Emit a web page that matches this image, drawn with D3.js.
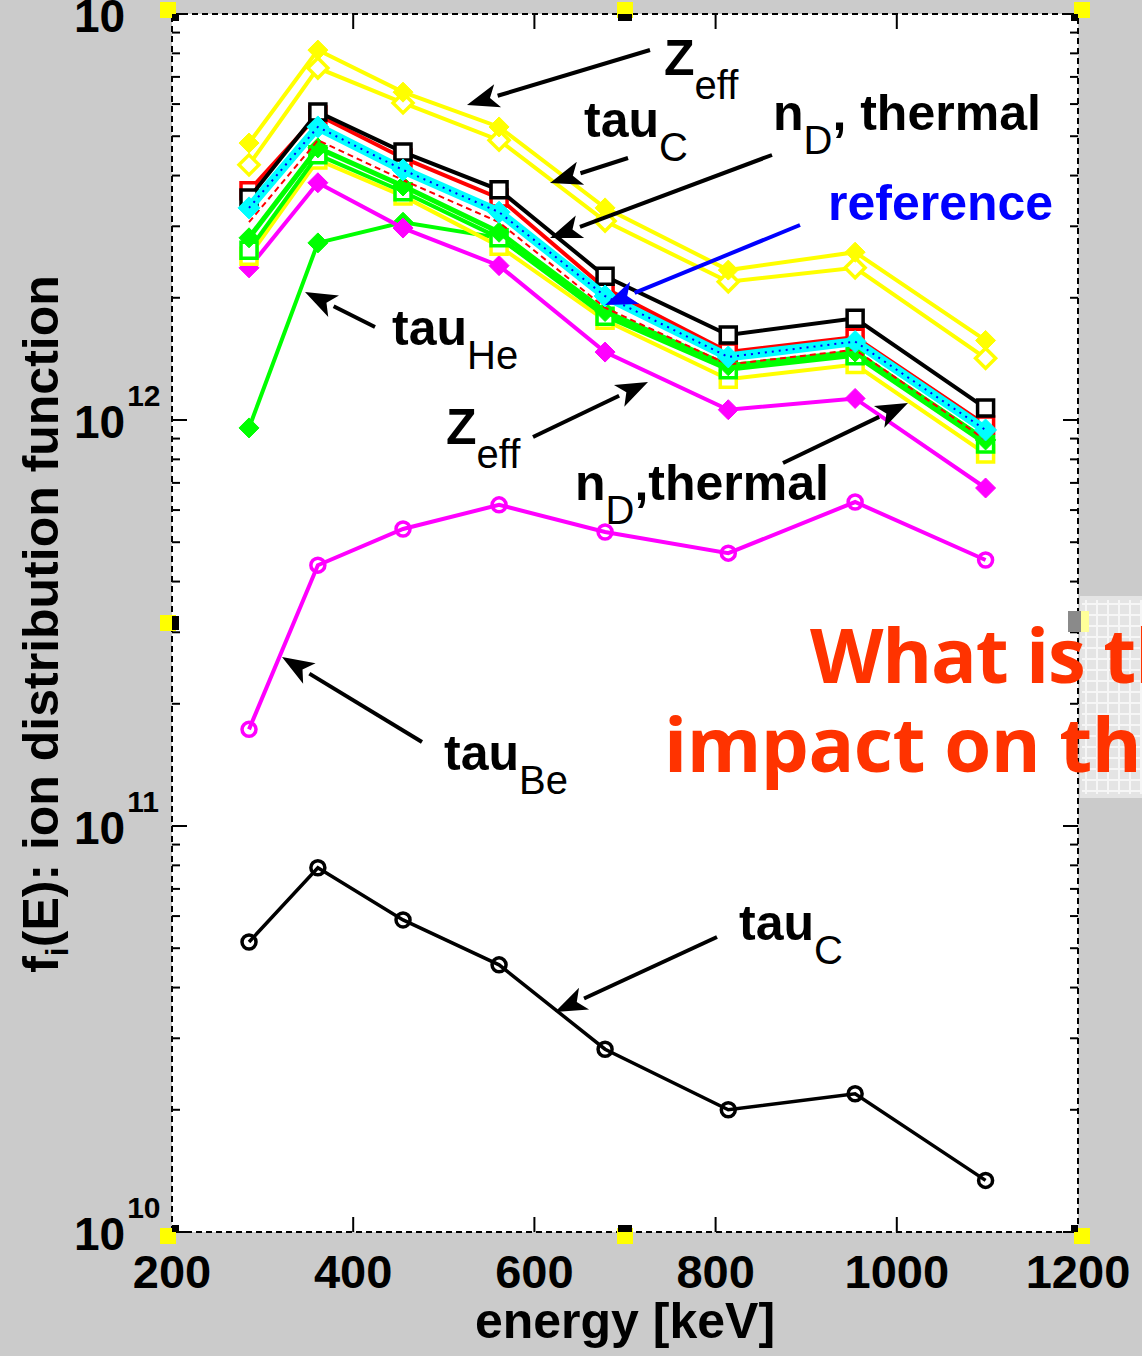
<!DOCTYPE html>
<html>
<head>
<meta charset="utf-8">
<script src="https://cdn.jsdelivr.net/npm/d3@7"></script>
<style>
  html, body { margin: 0; padding: 0; background: #cbcbcb; }
  svg { display: block; }
</style>
</head>
<body>
<svg id="chart" width="1142" height="1356"></svg>
<script>
// Energy grid of the simulated fast-ion spectrum [keV]
const energy = [285, 361, 455, 561, 678, 814, 954, 1098];

// f_i(E) for each parameter scan
const zeffHigh  = [4.81e12, 8.15e12, 6.42e12, 5.27e12, 3.33e12, 2.34e12, 2.59e12, 1.57e12];
const tauCHigh  = [4.25e12, 7.36e12, 6.04e12, 4.89e12, 3.09e12, 2.19e12, 2.37e12, 1.42e12];
const nDHigh    = [3.52e12, 5.74e12, 4.57e12, 3.69e12, 2.26e12, 1.62e12, 1.78e12, 1.07e12];
const redRun    = [3.67e12, 5.64e12, 4.42e12, 3.52e12, 2.11e12, 1.47e12, 1.60e12, 9.72e11];
const reference = [3.33e12, 5.27e12, 4.13e12, 3.25e12, 2.02e12, 1.43e12, 1.56e12, 9.45e11];
const redDashed = [3.07e12, 4.89e12, 3.90e12, 3.07e12, 1.89e12, 1.37e12, 1.49e12, 8.93e11];
const greenA    = [2.81e12, 4.68e12, 3.77e12, 2.90e12, 1.85e12, 1.36e12, 1.47e12, 8.93e11];
const greenB    = [2.62e12, 4.50e12, 3.65e12, 2.81e12, 1.80e12, 1.33e12, 1.44e12, 8.73e11];
const yellowLow = [2.53e12, 4.37e12, 3.56e12, 2.68e12, 1.76e12, 1.26e12, 1.37e12, 8.25e11];
const zeffLow   = [2.37e12, 3.84e12, 2.97e12, 2.40e12, 1.47e12, 1.06e12, 1.13e12, 6.80e11];
const tauHe     = [9.56e11, 2.73e12, 3.07e12, 2.81e12, 1.83e12, 1.36e12, 1.47e12, 8.93e11];
const tauBe     = [1.73e11, 4.39e11, 5.39e11, 6.18e11, 5.30e11, 4.70e11, 6.28e11, 4.52e11];
const tauCLow   = [5.18e10, 7.89e10, 5.87e10, 4.55e10, 2.82e10, 2.00e10, 2.19e10, 1.34e10];

// Axis ticks
const xTickValues = [200, 400, 600, 800, 1000, 1200];
const yTickExponents = [10, 11, 12, 13];

const svg = d3.select("#chart");
const plotLeft = 172, plotRight = 1078, plotTop = 14, plotBottom = 1232;

const x = d3.scaleLinear().domain([200, 1200]).range([plotLeft, plotRight]);
const y = d3.scaleLog().domain([1e10, 1e13]).range([plotBottom, plotTop]);

// plotting area
svg.append("rect").attr("x", plotLeft).attr("y", plotTop)
  .attr("width", plotRight - plotLeft).attr("height", plotBottom - plotTop).attr("fill", "#fff");

// Series: drawn back to front
const series = [
  { v: tauCLow,   color: "#000",    width: 3.5, marker: "circle",  fill: "none", r: 7 },
  { v: tauBe,     color: "#ff00ff", width: 4,   marker: "circle",  fill: "none", r: 7 },
  { v: tauHe,     color: "#00ff00", width: 4,   marker: "diamond", fill: "#00ff00", r: 10 },
  { v: zeffLow,   color: "#ff00ff", width: 4,   marker: "diamond", fill: "#ff00ff", r: 10 },
  { v: yellowLow, color: "#ffff00", width: 4,   marker: "square",  fill: "#fff", r: 8 },
  { v: greenB,    color: "#00ff00", width: 4,   marker: "square",  fill: "#fff", r: 8 },
  { v: greenA,    color: "#00ff00", width: 5,   marker: "diamond", fill: "#00ff00", r: 10 },
  { v: redDashed, color: "#ff0000", width: 2,   marker: null, dash: "6,4" },
  { v: redRun,    color: "#ff0000", width: 4,   marker: "square",  fill: "#fff", r: 8 },
  { v: nDHigh,    color: "#000",    width: 4,   marker: "square",  fill: "#fff", r: 8 },
  { v: reference, color: "#00ffff", width: 9,   marker: "diamond", fill: "#00ffff", r: 11 },
  { v: reference, color: "#0000ff", width: 2,   marker: null, dash: "2,5" },
  { v: tauCHigh,  color: "#ffff00", width: 4,   marker: "diamond", fill: "#fff", r: 10 },
  { v: zeffHigh,  color: "#ffff00", width: 4,   marker: "diamond", fill: "#ffff00", r: 10 }
];

const line = d3.line().x((d, i) => x(energy[i])).y(d => y(d));

function markerPath(type, r) {
  if (type === "diamond") return `M0,${-r}L${r},0L0,${r}L${-r},0Z`;
  if (type === "square") return `M${-r},${-r}H${r}V${r}H${-r}Z`;
  const p = d3.path(); p.arc(0, 0, r, 0, 2 * Math.PI); return p.toString();
}

const plot = svg.append("g");
series.forEach(s => {
  plot.append("path").attr("d", line(s.v))
    .attr("fill", "none").attr("stroke", s.color)
    .attr("stroke-width", s.width).attr("stroke-linejoin", "miter")
    .attr("stroke-dasharray", s.dash || null);
  if (s.marker) {
    plot.selectAll(null).data(s.v).enter().append("path")
      .attr("d", markerPath(s.marker, s.r))
      .attr("transform", (d, i) => `translate(${x(energy[i])},${y(d)})`)
      .attr("fill", s.fill)
      .attr("stroke", s.color)
      .attr("stroke-width", s.fill === "none" || s.fill === "#fff" ? 3.5 : 1);
  }
});

// frame: dashed border
svg.append("rect").attr("x", plotLeft).attr("y", plotTop)
  .attr("width", plotRight - plotLeft).attr("height", plotBottom - plotTop)
  .attr("fill", "none").attr("stroke", "#000").attr("stroke-width", 2)
  .attr("stroke-dasharray", "6,4");

// inward ticks
const tickG = svg.append("g").attr("stroke", "#000").attr("stroke-width", 2);
[400, 600, 800, 1000].forEach(t => {
  tickG.append("line").attr("x1", x(t)).attr("x2", x(t)).attr("y1", plotBottom).attr("y2", plotBottom - 15);
  tickG.append("line").attr("x1", x(t)).attr("x2", x(t)).attr("y1", plotTop).attr("y2", plotTop + 15);
});
y.ticks().forEach(t => {
  const major = Math.abs(Math.log10(t) - Math.round(Math.log10(t))) < 1e-9;
  const len = major ? 15 : 8;
  tickG.append("line").attr("x1", plotLeft).attr("x2", plotLeft + len).attr("y1", y(t)).attr("y2", y(t));
  tickG.append("line").attr("x1", plotRight).attr("x2", plotRight - len).attr("y1", y(t)).attr("y2", y(t));
});

// small yellow/black handles along the frame
const midY = (plotTop + plotBottom) / 2;
const handles = [
  [plotLeft, plotTop, -1, -1], [x(700), plotTop, 0, -1], [plotRight, plotTop, 1, -1],
  [plotLeft, midY, -1, 0],
  [plotLeft, plotBottom, -1, 1], [x(700), plotBottom, 0, 1], [plotRight, plotBottom, 1, 1]
];
handles.forEach(([hx, hy, dx, dy]) => {
  const sx = dx === 0 ? hx - 8 : (dx < 0 ? hx - 12 : hx - 4);
  const sy = dy === 0 ? hy - 8 : (dy < 0 ? hy - 12 : hy - 4);
  svg.append("rect").attr("x", sx).attr("y", sy).attr("width", 16).attr("height", 16).attr("fill", "#ffff00");
  svg.append("rect").attr("x", hx - (dx > 0 ? 7 : (dx < 0 ? 0 : 7)))
    .attr("y", hy - (dy > 0 ? 7 : (dy < 0 ? 0 : 7)))
    .attr("width", dx === 0 ? 14 : 7).attr("height", dy === 0 ? 14 : 7).attr("fill", "#000");
});

// tick labels
const font = "'Liberation Sans', Arial, sans-serif";
svg.append("g").selectAll("text").data(xTickValues).enter().append("text")
  .attr("x", d => x(d)).attr("y", 1288)
  .attr("text-anchor", "middle").attr("font-family", font)
  .attr("font-weight", "bold").attr("font-size", 47).text(d => d);

yTickExponents.forEach(e => {
  const ty = y(Math.pow(10, e));
  const t = svg.append("text").attr("font-family", font).attr("font-weight", "bold");
  t.append("tspan").attr("x", 74).attr("y", ty + 18).attr("font-size", 46).text("10");
  t.append("tspan").attr("dx", 2).attr("y", ty - 14).attr("font-size", 30).text(e);
});

svg.append("text").attr("x", x(700)).attr("y", 1338)
  .attr("text-anchor", "middle").attr("font-family", font)
  .attr("font-weight", "bold").attr("font-size", 50).text("energy [keV]");

const yt = svg.append("text").attr("transform", "translate(58,624) rotate(-90)")
  .attr("text-anchor", "middle").attr("font-family", font)
  .attr("font-weight", "bold").attr("font-size", 50);
yt.append("tspan").text("f");
yt.append("tspan").attr("font-size", 32).attr("dy", 10).text("i");
yt.append("tspan").attr("dy", -10).text("(E): ion distribution function");

// annotations
function label(px, py, main, sub, rest, color, subBold) {
  const t = svg.append("text").attr("x", px).attr("y", py)
    .attr("font-family", font).attr("font-weight", "bold")
    .attr("font-size", 50).attr("fill", color || "#000");
  t.append("tspan").text(main);
  if (sub) t.append("tspan").attr("dy", 24).attr("font-size", 40)
    .attr("font-weight", subBold ? "bold" : "normal").text(sub);
  if (rest) t.append("tspan").attr("dy", -24).text(rest);
}
label(664, 75, "Z", "eff");
label(584, 137, "tau", "C");
label(773, 130, "n", "D", ", thermal");
label(828, 220, "reference", null, null, "#0000ff");
label(392, 345, "tau", "He");
label(446, 444, "Z", "eff");
label(575, 500, "n", "D", ",thermal");
label(444, 770, "tau", "Be");
label(739, 940, "tau", "C");

function arrow(x1, y1, x2, y2, color) {
  const a = Math.atan2(y2 - y1, x2 - x1);
  const hl = 32, hw = 12;
  const bx = x2 - hl * Math.cos(a), by = y2 - hl * Math.sin(a);
  svg.append("line").attr("x1", x1).attr("y1", y1).attr("x2", bx).attr("y2", by)
    .attr("stroke", color || "#000").attr("stroke-width", 4);
  const px = -Math.sin(a) * hw, py = Math.cos(a) * hw;
  svg.append("path")
    .attr("d", `M${x2},${y2}L${bx + px},${by + py}L${bx + 8 * Math.cos(a)},${by + 8 * Math.sin(a)}L${bx - px},${by - py}Z`)
    .attr("fill", color || "#000");
}
arrow(650, 50, 467, 105);
arrow(628, 158, 550, 183);
arrow(772, 155, 550, 238);
arrow(800, 225, 605, 305, "#0000ff");
arrow(375, 327, 305, 292);
arrow(533, 437, 648, 382);
arrow(783, 463, 908, 403);
arrow(422, 742, 282, 657);
arrow(717, 937, 555, 1012);

// grey slide panel at the right edge
const panel = svg.append("g");
panel.append("rect").attr("x", 1080).attr("y", 596).attr("width", 62).attr("height", 202).attr("fill", "#e4e4e4");
d3.range(1086, 1142, 11).forEach(gx => panel.append("line").attr("x1", gx).attr("x2", gx)
  .attr("y1", 600).attr("y2", 794).attr("stroke", "#f6f6f6").attr("stroke-width", 2));
d3.range(604, 796, 11).forEach(gy => panel.append("line").attr("x1", 1082).attr("x2", 1142)
  .attr("y1", gy).attr("y2", gy).attr("stroke", "#f6f6f6").attr("stroke-width", 2));
panel.append("rect").attr("x", 1068).attr("y", 611).attr("width", 13).attr("height", 21).attr("fill", "#8a8a8a");
panel.append("rect").attr("x", 1081).attr("y", 611).attr("width", 8).attr("height", 21).attr("fill", "#ffff99");

// overlaid question
const q = svg.append("text").attr("font-family", "'Open Sans', sans-serif")
  .attr("font-weight", "bold").attr("font-size", 76).attr("fill", "#ff3300");
q.append("tspan").attr("x", 810).attr("y", 683).attr("letter-spacing", -1.2).text("What is the");
q.append("tspan").attr("x", 664).attr("y", 772).attr("letter-spacing", -0.5).text("impact on the");
</script>
</body>
</html>
